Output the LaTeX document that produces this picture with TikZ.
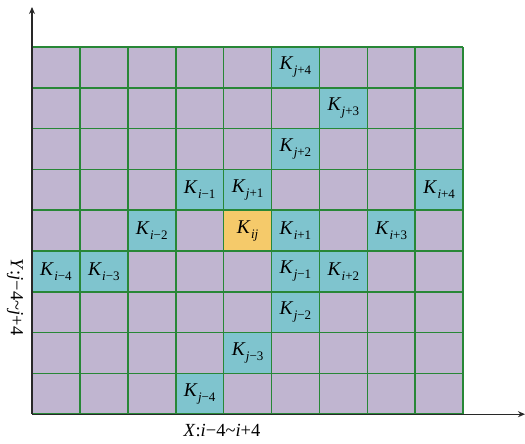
\documentclass[tikz,border=0pt]{standalone}
\usepackage{fontspec}
\setmainfont{Liberation Serif}
\usetikzlibrary{arrows.meta}
\definecolor{cellp}{RGB}{192,181,208}
\definecolor{cellt}{RGB}{127,196,206}
\definecolor{celly}{RGB}{245,202,106}
\definecolor{gridg}{RGB}{40,135,55}
\definecolor{axisc}{RGB}{40,40,40}
\newcommand{\Kx}[2]{\textit{K}\kern0.3pt\raisebox{-5pt}{\fontsize{13}{13}\selectfont\textit{#1}#2}}
\expandafter\def\csname lab6-1\endcsname{\Kx{j}{+4}}
\expandafter\def\csname lab7-2\endcsname{\Kx{j}{+3}}
\expandafter\def\csname lab6-3\endcsname{\Kx{j}{+2}}
\expandafter\def\csname lab4-4\endcsname{\Kx{i}{−1}}
\expandafter\def\csname lab5-4\endcsname{\Kx{j}{+1}}
\expandafter\def\csname lab9-4\endcsname{\Kx{i}{+4}}
\expandafter\def\csname lab3-5\endcsname{\Kx{i}{−2}}
\expandafter\def\csname lab5-5\endcsname{\Kx{ij}{}}
\expandafter\def\csname lab6-5\endcsname{\Kx{i}{+1}}
\expandafter\def\csname lab8-5\endcsname{\Kx{i}{+3}}
\expandafter\def\csname lab1-6\endcsname{\Kx{i}{−4}}
\expandafter\def\csname lab2-6\endcsname{\Kx{i}{−3}}
\expandafter\def\csname lab6-6\endcsname{\Kx{j}{−1}}
\expandafter\def\csname lab7-6\endcsname{\Kx{i}{+2}}
\expandafter\def\csname lab6-7\endcsname{\Kx{j}{−2}}
\expandafter\def\csname lab5-8\endcsname{\Kx{j}{−3}}
\expandafter\def\csname lab4-9\endcsname{\Kx{j}{−4}}
\begin{document}
\begin{tikzpicture}[x=1pt,y=-1pt,
  cell/.style={minimum width=47.9pt, minimum height=40.8pt,
    inner sep=0pt, outer sep=0pt, fill=cellp, font=\fontsize{19.5}{19.5}\selectfont},
  gridline/.style={draw=gridg, line width=1.6pt},
  axis/.style={draw=axisc, line width=1.4pt, -{Stealth[length=7pt,width=6pt]}},
  axlabel/.style={font=\fontsize{18.5}{18.5}\selectfont, inner sep=0pt}]
\useasboundingbox (0,0) rectangle (525,444);
\foreach \cc in {1,...,9}{\foreach \rr in {1,...,9}{
  \ifcsname lab\cc-\rr\endcsname
    \ifnum\cc\rr=55 \def\tmpf{celly}\else\def\tmpf{cellt}\fi
    \node[cell, fill=\tmpf] (c\cc-\rr) at ({32+(\cc-0.5)*47.9},{47+(\rr-0.5)*40.8}) {\csname lab\cc-\rr\endcsname};
  \else
    \node[cell] (c\cc-\rr) at ({32+(\cc-0.5)*47.9},{47+(\rr-0.5)*40.8}) {};
  \fi
}}
\foreach \cc in {1,...,10}{
  \draw[gridline] ({32+(\cc-1)*47.9},47) -- ({32+(\cc-1)*47.9},414.2);
}
\foreach \rr in {1,...,10}{
  \draw[gridline] (32,{47+(\rr-1)*40.8}) -- (463.1,{47+(\rr-1)*40.8});
}
\coordinate (o) at (32,414.2);
\coordinate (ytop) at (32,7);
\coordinate (xend) at (525,414.2);
\draw[axis] (o) -- (ytop);
\draw[axis] (o) -- (xend);
\node[axlabel] (xl) at (222,431) {\textit{X}:\textit{i}−4\textasciitilde\textit{i}+4};
\node[axlabel, rotate=-90] (yl) at (15,297) {\textit{Y}:\textit{j}−4\textasciitilde\textit{j}+4};
\end{tikzpicture}
\end{document}
